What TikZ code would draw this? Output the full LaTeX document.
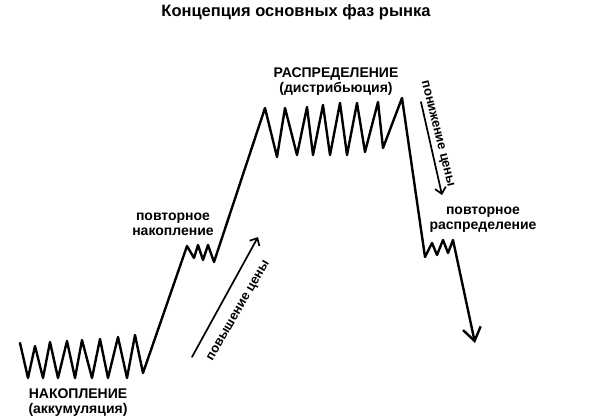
\documentclass[tikz,border=0pt]{standalone}
\usepackage{fontspec}
\setmainfont{Liberation Sans}
\usetikzlibrary{arrows.meta}
\begin{document}
\begin{tikzpicture}[x=1pt,y=-1pt,line join=round,line cap=round,font=\bfseries\fontsize{14}{15}\selectfont]
	\useasboundingbox (0,0) rectangle (600,420);
	\tikzset{price/.style={line width=2.4pt},
		trend/.style={line width=1.7pt,-{Straight Barb[length=6pt,width=11pt]}}}
	\node (title) at (296,12) {\fontsize{16.5}{18}\selectfont Концепция основных фаз рынка};
	% ход цены
	\draw[price,-{Straight Barb[length=13pt,width=18pt]}] plot coordinates {(20,343) (28,378) (35,346) (43,378) (50,342) (58,378) (67,341) (75,378) (82,340) (92,378) (100,339) (108,378) (118,337) (127,378) (135,335) (143,373)
		(187,246) (194,258) (198,245) (203,260) (208,245) (214,262)
		(265,108) (277,157) (285,108) (297,155) (307,107) (313,155) (323,105) (330,155) (340,103) (347,155) (357,103) (365,152) (378,102) (383,148) (402,98)
		(425,257) (432,243) (437,255) (443,240) (448,253) (453,240) (475,343)};
	\node[align=center] (acc) at (78,403) {НАКОПЛЕНИЕ\\(аккумуляция)};
	\node[align=center] (reacc) at (173,224) {повторное\\накопление};
	\node[align=center] (dist) at (336,82) {РАСПРЕДЕЛЕНИЕ\\(дистрибьюция)};
	\node[align=center] (redist) at (483,220) {повторное\\распределение};
	% стрелки тренда
	\coordinate (riseA) at (192,357);
	\coordinate (riseB) at (258,237);
	\draw[trend] (riseA) -- (riseB);
	\node[rotate=60,font=\bfseries\fontsize{13}{14}\selectfont] (rise) at (239,311) {повышение цены};
	\coordinate (fallA) at (421,102);
	\coordinate (fallB) at (442,195);
	\draw[trend] (fallA) -- (fallB);
	\node[rotate=-76,font=\bfseries\fontsize{13}{14}\selectfont] (fall) at (437,134) {понижение цены};
\end{tikzpicture}
\end{document}
